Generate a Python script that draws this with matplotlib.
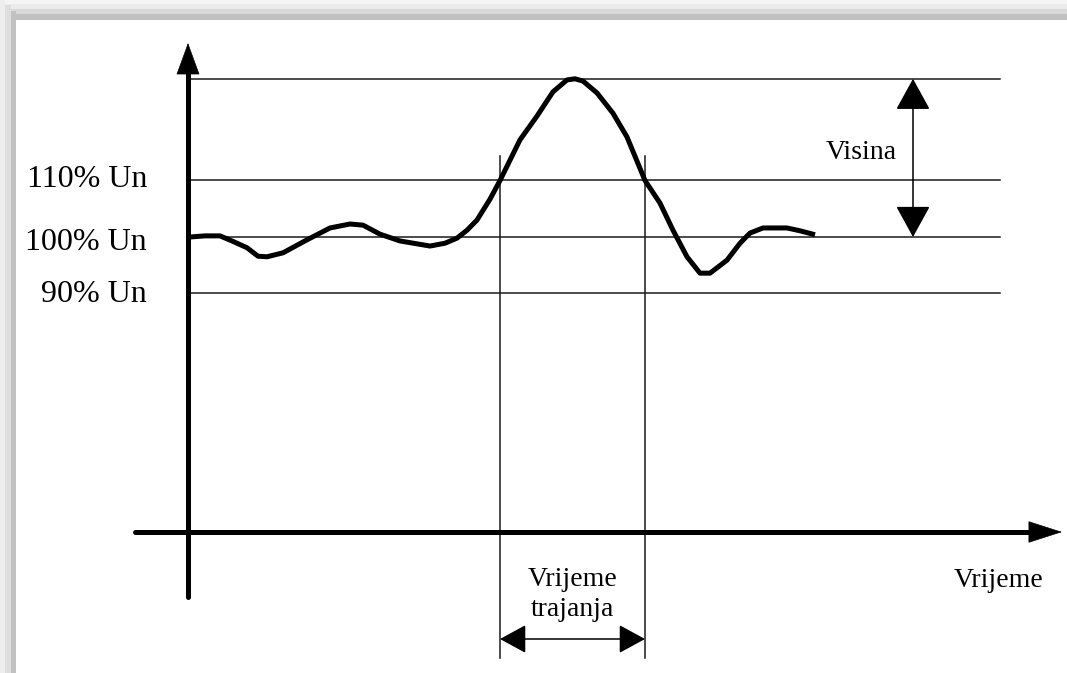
import matplotlib
matplotlib.use("Agg")
import matplotlib.pyplot as plt
from matplotlib.patches import Rectangle

# voltage curve: time (arbitrary units) vs voltage (% of Un)
curve_t = [0.2, 1.7, 3.2, 4.4, 5.9, 7.0, 7.9, 9.5, 11.9, 14.2, 16.2, 17.5, 19.2, 21.2,
           24.2, 25.7, 26.9, 27.9, 28.9, 30.2, 31.2, 33.2, 34.9, 36.5, 37.9, 38.7, 39.5,
           40.9, 42.5, 43.9, 45.7, 47.2, 48.5, 49.9, 51.2, 52.2, 53.9, 55.2, 56.2, 57.5,
           59.9, 61.2, 62.7]
curve_v = [100.0, 100.2, 100.2, 99.3, 98.1, 96.6, 96.5, 97.2, 99.5, 101.6, 102.3, 102.1,
           100.5, 99.3, 98.4, 98.9, 99.8, 101.2, 103.0, 106.7, 110.0, 117.2, 121.4, 125.7,
           127.8, 128.0, 127.6, 125.5, 121.9, 117.7, 110.0, 106.0, 101.2, 96.5, 93.6, 93.6,
           95.9, 98.9, 100.7, 101.6, 101.6, 101.1, 100.4]
levels = [110, 100, 90]
level_labels = ["110% Un", "100% Un", "90% Un"]
peak = 128.0
t_start, t_end = 31.2, 45.7          # crossings of the 110 % level
t_line_end = 81.2
axis_label = "Vrijeme"
height_label = "Visina"
duration_label = "Vrijeme\ntrajanja"

W, H = 1067, 673
X0, V0, SX, SV = 188, 237, 10.0, 5.65   # pixel mapping of the drawing


def tx(px):
    return (px - X0) / SX


def vy(py):
    return 100 - (py - V0) / SV


fig = plt.figure(figsize=(W / 100, H / 100), dpi=100)
fig.patch.set_facecolor("white")

# page shadow along top and left edge
for y0, y1, c in [(0, 4, "#f5f5f5"), (4, 9, "#ebebeb"), (9, 14, "#d9d9d9"), (14, 20, "#c0c0c0")]:
    fig.add_artist(Rectangle((y0 / W, 1 - y1 / H), 1 - y0 / W, (y1 - y0) / H,
                             transform=fig.transFigure, color=c, lw=0, zorder=0))
for x0, x1, c in [(0, 5, "#eeeeee"), (5, 11, "#dedede"), (11, 16, "#c2c2c2")]:
    fig.add_artist(Rectangle((x0 / W, 0), (x1 - x0) / W, 1 - x0 / H,
                             transform=fig.transFigure, color=c, lw=0, zorder=0))

ax = fig.add_axes([0, 0, 1, 1])
ax.set_xlim(tx(0), tx(W))
ax.set_ylim(vy(H), vy(0))
ax.axis("off")

thin = dict(color="#1a1a1a", lw=1.1)
for lev in levels + [peak]:
    ax.plot([tx(190), t_line_end], [lev, lev], **thin)
for t in (t_start, t_end):
    ax.plot([t, t], [vy(156), vy(658)], **thin)

ax.plot(curve_t, curve_v, color="black", lw=3.6, solid_capstyle="butt",
        solid_joinstyle="round", zorder=5)

# axes with arrow heads
ax.plot([0, 0], [vy(597), vy(60)], color="black", lw=3.6, solid_capstyle="round")
ax.plot([tx(135), tx(1045)], [vy(532), vy(532)], color="black", lw=3.6, solid_capstyle="round")
head = dict(color="black", lw=0.5, shrinkA=0, shrinkB=0, mutation_scale=1)
ax.annotate("", xy=(0, vy(43)), xytext=(0, vy(80)),
            arrowprops=dict(arrowstyle="-|>,head_length=21.6,head_width=7.9", **head))
ax.annotate("", xy=(tx(1062), vy(532)), xytext=(tx(1020), vy(532)),
            arrowprops=dict(arrowstyle="-|>,head_length=23,head_width=7.4", **head))

# height arrow
ax.annotate("", xy=(tx(913), peak), xytext=(tx(913), 100),
            arrowprops=dict(arrowstyle="<|-|>,head_length=20,head_width=11",
                            color="black", lw=1.1, shrinkA=0, shrinkB=0, mutation_scale=1))
# duration arrow
ax.annotate("", xy=(t_start, vy(639)), xytext=(t_end, vy(639)),
            arrowprops=dict(arrowstyle="<|-|>,head_length=16.5,head_width=9",
                            color="black", lw=1.1, shrinkA=0, shrinkB=0, mutation_scale=1))

font = dict(family="Liberation Serif", color="black")
for lab, ypx in zip(level_labels, [187, 250, 302]):
    ax.text(tx(147), vy(ypx), lab, ha="right", va="baseline", fontsize=23, **font)
ax.text(tx(897), vy(159), height_label, ha="right", va="baseline", fontsize=20, **font)
ax.text(tx(1043), vy(587), axis_label, ha="right", va="baseline", fontsize=20, **font)
ax.text((t_start + t_end) / 2, vy(616), duration_label, ha="center", va="baseline",
        fontsize=20, linespacing=1.25, multialignment="center", **font)

fig.savefig("out.png", dpi=100)
